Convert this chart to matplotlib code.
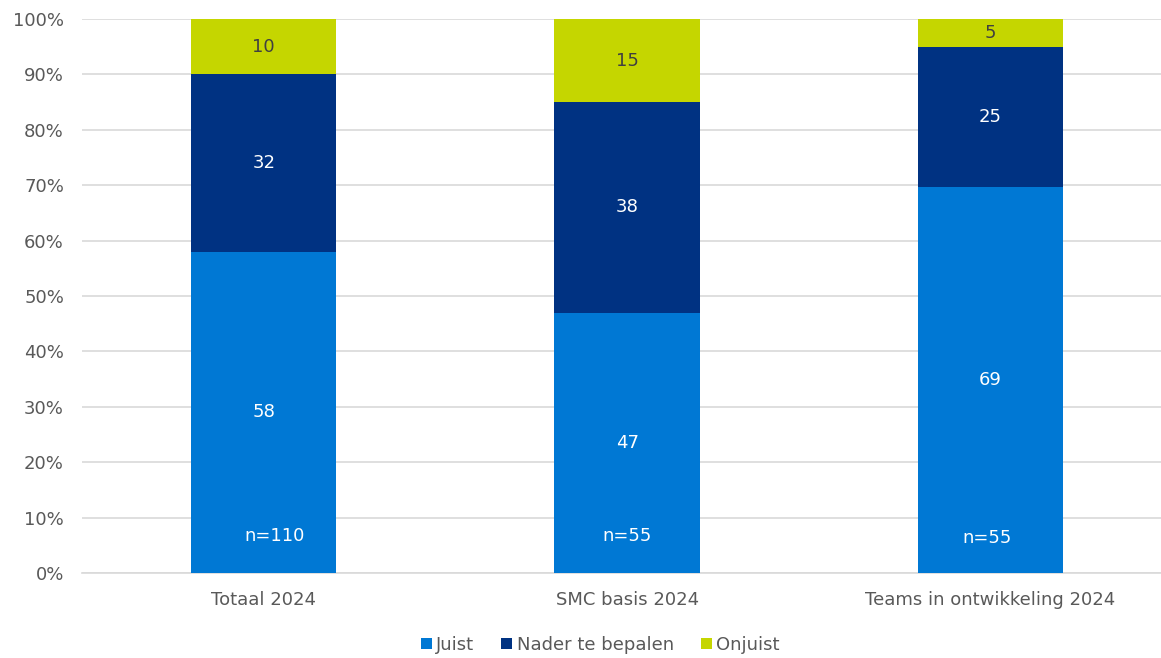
import matplotlib
matplotlib.use("Agg")
import matplotlib.pyplot as plt
import numpy as np

categories = ["Totaal 2024", "SMC basis 2024", "Teams in ontwikkeling 2024"]
juist = [58, 47, 69]
nader = [32, 38, 25]
onjuist = [10, 15, 5]
n_labels = ["n=110", "n=55", "n=55"]
series_names = ["Juist", "Nader te bepalen", "Onjuist"]
colors = ["#0078D4", "#003282", "#C5D600"]
label_colors = ["white", "white", "#404040"]

FS = 13

plt.rcParams['font.family'] = ['DejaVu Sans']
fig = plt.figure(figsize=(11.61, 6.58), dpi=100)
ax = fig.add_axes([82/1161, 85/658, 1 - 82/1161, (573-19)/658])

data = np.array([juist, nader, onjuist], dtype=float)
totals = data.sum(axis=0)
pct = data / totals * 100

x = np.arange(len(categories))
bottom = np.zeros(len(categories))
width = 0.4
for i in range(3):
    ax.bar(x, pct[i], width, bottom=bottom, color=colors[i], label=series_names[i], zorder=3)
    for j in range(len(categories)):
        ax.text(x[j], bottom[j] + pct[i][j] / 2, f"{data[i][j]:.0f}", ha="center", va="center",
                color=label_colors[i], fontsize=FS, zorder=4)
    bottom += pct[i]

n_y = [6.7, 6.7, 6.3]
for j in range(len(categories)):
    ax.text(x[j] + (0.03 if j == 0 else (-0.01 if j == 2 else 0)), n_y[j], n_labels[j], ha="center", va="center",
            color="white", fontsize=FS, zorder=4)

ax.set_xlim(-0.5, (1161 - 263.5) / 363.5)
ax.set_ylim(0, 100)
ax.set_yticks(np.arange(0, 101, 10))
ax.set_yticklabels([f"{v}%" for v in range(0, 101, 10)])
ax.set_xticks(x)
ax.set_xticklabels(categories)
ax.tick_params(axis="both", length=0, labelsize=FS, colors="#595959")
ax.tick_params(axis="y", pad=13)
ax.tick_params(axis="x", pad=13)
ax.grid(axis="y", color="#D9D9D9", linewidth=1.2, zorder=0)
for s in ["top", "right", "left"]:
    ax.spines[s].set_visible(False)
ax.spines["bottom"].set_color("#D9D9D9")
ax.spines["bottom"].set_linewidth(1.2)

fig.legend(loc="center", bbox_to_anchor=(0.517, 13/658), ncol=3, frameon=False,
           fontsize=FS, handlelength=0.6, handleheight=0.6, handletextpad=0.25, columnspacing=1.5,
           labelcolor="#595959")

fig.savefig("out.png", dpi=100)
